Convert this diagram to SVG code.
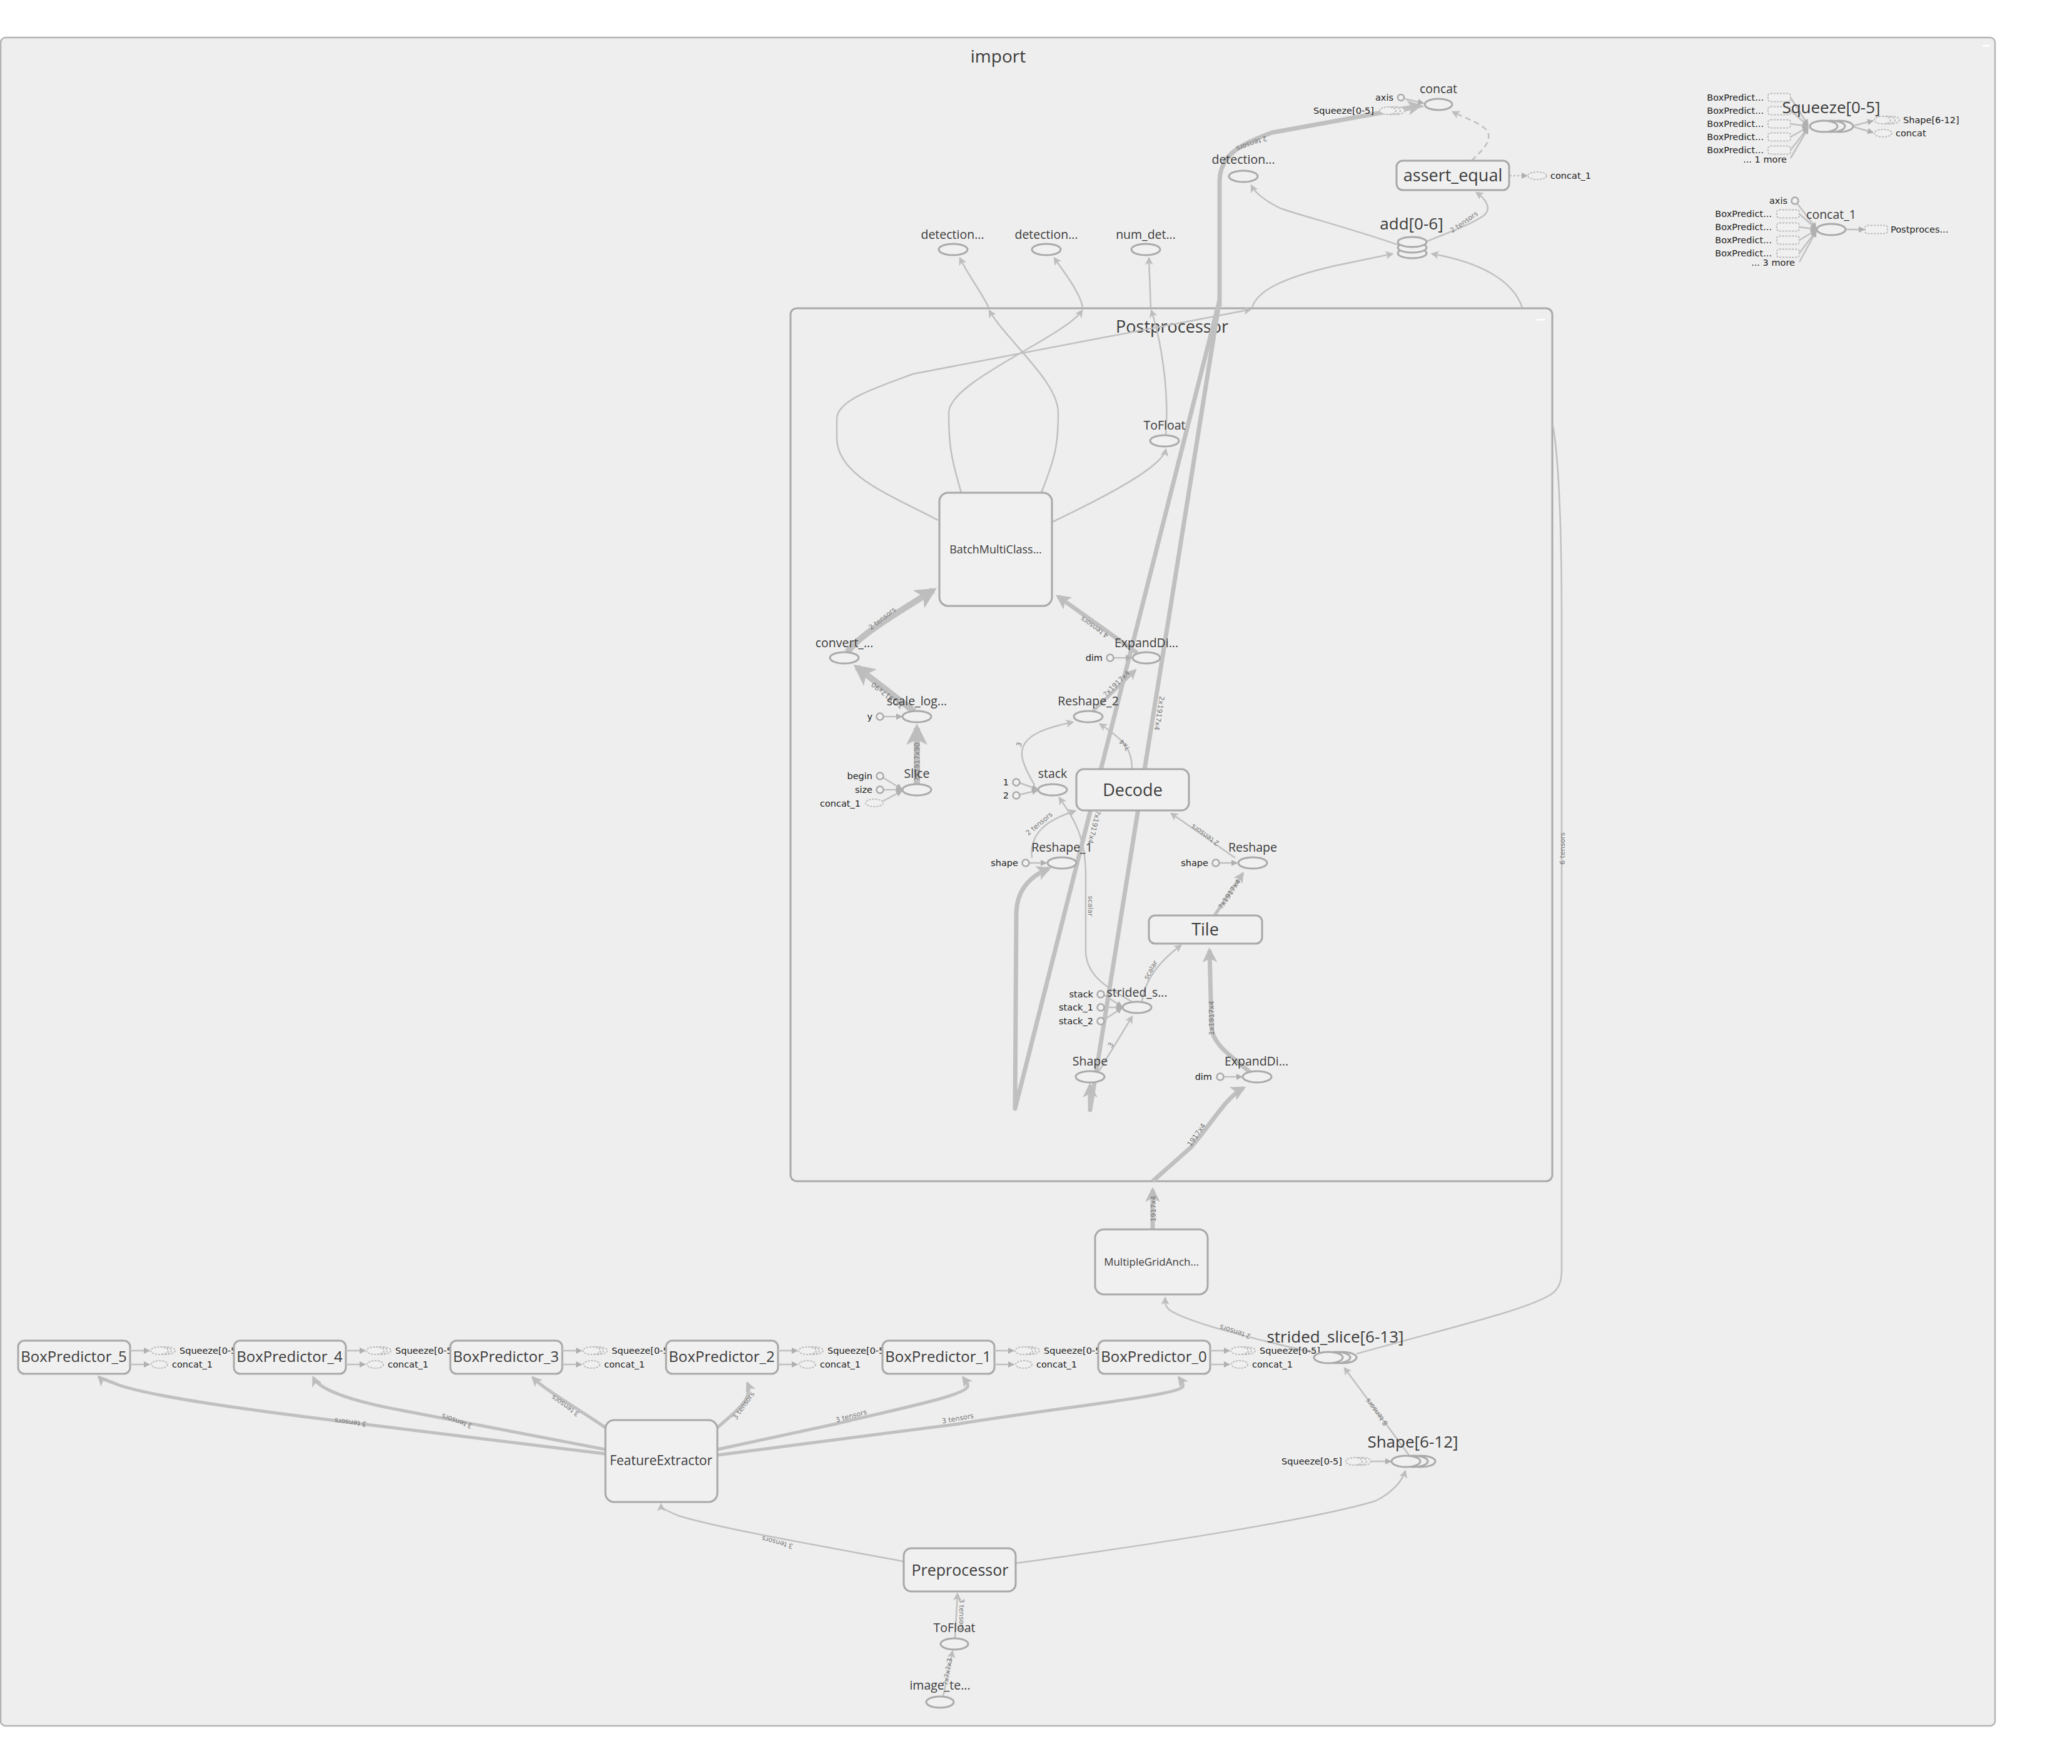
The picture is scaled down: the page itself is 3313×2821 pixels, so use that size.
<svg xmlns="http://www.w3.org/2000/svg" width="3313" height="2821" viewBox="0 0 3313 2821">
<style>
.grp{fill:#eeeeee;stroke:#b4b4b4;stroke-width:2.5}
.pp{fill:#eeeeee;stroke:#a9a9a9;stroke-width:3}
.b{fill:#f0f0f0;stroke:#a8a8a8;stroke-width:3}
.o{fill:#f0f0f0;stroke:#aaaaaa;stroke-width:3}
.c{fill:#f0f0f0;stroke:#aaaaaa;stroke-width:2.5}
.d{fill:#f0f0f0;stroke:#bbbbbb;stroke-width:2;stroke-dasharray:3 2}
.e{fill:none;stroke:#c0c0c0;stroke-width:2.5;stroke-linejoin:round}
.e5{stroke-width:5}
.e7{stroke-width:7}
.e10{stroke-width:10}
.t{font-family:'Open Sans','Liberation Sans',sans-serif;fill:#3c3c3c;text-anchor:middle}
.op{font-size:19.5px}
.m{font-size:27px}
.s{font-size:26px}
.an{font-family:'DejaVu Sans','Liberation Sans',sans-serif;font-size:14.5px;fill:#222}
.r{text-anchor:end}
.el{font-family:'DejaVu Sans','Liberation Sans',sans-serif;font-size:11px;fill:#777;text-anchor:middle}
</style>
<defs>
<marker id="ar" viewBox="0 0 10 10" refX="8" refY="5" markerWidth="13" markerHeight="13" markerUnits="userSpaceOnUse" orient="auto"><path d="M0,0 L10,5 L0,10 L2.5,5z" fill="#bdbdbd"/></marker>
<marker id="as" viewBox="0 0 10 10" refX="9" refY="5" markerWidth="10" markerHeight="10" markerUnits="userSpaceOnUse" orient="auto"><path d="M0,0 L10,5 L0,10z" fill="#b0b0b0"/></marker>
<marker id="arL" viewBox="0 0 10 10" refX="8" refY="5" markerWidth="3.4" markerHeight="3.4" orient="auto"><path d="M0,0 L10,5 L0,10 L2.5,5z" fill="#bdbdbd"/></marker>
</defs>
<rect width="3313" height="2821" fill="#ffffff"/>

<g id="import">
<rect class="grp" x="1" y="60" width="3189" height="2700" rx="8"/>
<text class="t" x="1596" y="100" font-size="28">import</text>
<rect x="3170" y="72" width="12" height="2.5" fill="#ffffff"/>
</g>

<g id="Postprocessor">
<rect class="pp" x="1264" y="493" width="1218" height="1396" rx="10"/>
<text class="t" x="1874" y="532" font-size="27">Postprocessor</text>
<rect x="2457" y="510" width="13" height="2.5" fill="#ffffff"/>
</g>

<g id="connectors">
<path class="e e7" d="M1950,490 L1950,290 C1950,245 1990,228 2034,212 L2270,169" marker-end="url(#arL)"/>
<text class="el" transform="translate(2000,226) rotate(160)">2 tensors</text>
<path class="e e7" d="M1950,480 L1623,1773 L1625,1460 C1626,1420 1650,1400 1677,1389" marker-end="url(#arL)"/>
<text class="el" transform="translate(1746,1322) rotate(104)">?x1917x4</text>
<path class="e e7" d="M1950,480 L1743,1775 L1743,1736" marker-end="url(#arL)"/>
<text class="el" transform="translate(1850,1140) rotate(99)">2x1917x4</text>

<path class="e" d="M2246,158 L2276,165" marker-end="url(#as)"/>
<path class="e" d="M2247,177 L2276,170"/>
<path class="e" d="M2240,393 C2150,362 2080,345 2047,333 C2025,322 2008,310 2001,297" marker-end="url(#ar)"/>
<path class="e" d="M2279,387 C2320,370 2350,360 2372,345 C2385,335 2378,320 2361,308" marker-end="url(#ar)"/>
<text class="el" transform="translate(2343,358) rotate(-35)">2 tensors</text>
<path class="e" d="M2353,257 C2370,240 2382,230 2380,215 C2378,200 2345,190 2323,179" stroke-dasharray="9 6" marker-end="url(#ar)"/>
<path class="e" d="M2414,281 L2442,281" stroke-dasharray="3 3" marker-end="url(#as)"/>

<path class="e" d="M1500,832 C1420,790 1338,760 1338,700 L1338,670 C1338,640 1400,620 1460,598 L1999,495" marker-end="url(#ar)"/>
<path class="e" d="M2002,492 C2010,465 2050,445 2130,426 L2226,406" marker-end="url(#ar)"/>
<path class="e" d="M2434,492 C2420,450 2370,420 2290,406" marker-end="url(#ar)"/>
<path class="e" d="M1665,788 C1688,730 1692,710 1692,660 C1692,610 1610,545 1582,497" marker-end="url(#ar)"/>
<path class="e" d="M1581,492 C1568,465 1548,440 1535,413" marker-end="url(#ar)"/>
<path class="e" d="M1537,788 C1520,730 1517,710 1517,660 C1517,610 1700,540 1730,497" marker-end="url(#ar)"/>
<path class="e" d="M1731,492 C1728,470 1705,440 1686,413" marker-end="url(#ar)"/>
<path class="e" d="M1864,696 C1870,620 1855,540 1841,497" marker-end="url(#ar)"/>
<path class="e" d="M1840,492 L1837,413" marker-end="url(#ar)"/>
<path class="e" d="M1682,835 C1760,798 1858,748 1864,719" marker-end="url(#ar)"/>

<path class="e e10" d="M1355,1043 C1375,1015 1430,983 1492,944" marker-end="url(#arL)"/>
<text class="el" transform="translate(1413,992) rotate(-38)">2 tensors</text>
<path class="e e10" d="M1462,1138 L1370,1067" marker-end="url(#arL)"/>
<text class="el" transform="translate(1421,1109) rotate(218)">?x1917x90</text>
<path class="e e10" d="M1466,1254 L1466,1164" marker-end="url(#arL)"/>
<text class="el" transform="translate(1470,1218) rotate(-90)">?x1917x90</text>
<path class="e" d="M1412,1146 L1442,1146" marker-end="url(#as)"/>
<path class="e" d="M1411,1243 L1442,1262" marker-end="url(#as)"/>
<path class="e" d="M1412,1263 L1442,1263" marker-end="url(#as)"/>
<path class="e" d="M1412,1281 L1442,1265" marker-end="url(#as)"/>

<path class="e e7" d="M1818,1044 L1692,954" marker-end="url(#arL)"/>
<text class="el" transform="translate(1752,1000) rotate(215)">4 tensors</text>
<path class="e" d="M1780,1052 L1809,1052" marker-end="url(#as)"/>
<path class="e e5" d="M1748,1137 L1815,1072" marker-end="url(#arL)"/>
<text class="el" transform="translate(1788,1096) rotate(-44)">?x1917x4</text>
<path class="e" d="M1654,1255 C1630,1215 1622,1190 1661,1171 C1680,1162 1700,1158 1715,1155" marker-end="url(#ar)"/>
<text class="el" transform="translate(1633,1192) rotate(-70)">3</text>
<path class="e" d="M1810,1229 C1810,1200 1800,1185 1759,1158" marker-end="url(#ar)"/>
<text class="el" transform="translate(1801,1189) rotate(230)">?x4</text>
<path class="e" d="M1630,1252 L1659,1262" marker-end="url(#as)"/>
<path class="e" d="M1630,1271 L1659,1264" marker-end="url(#as)"/>
<path class="e" d="M1650,1372 C1646,1335 1670,1312 1719,1297" marker-end="url(#ar)"/>
<text class="el" transform="translate(1664,1320) rotate(-40)">2 tensors</text>
<path class="e" d="M1812,1603 C1770,1580 1736,1560 1736,1520 L1736,1400 C1736,1330 1710,1300 1694,1276" marker-end="url(#ar)"/>
<text class="el" transform="translate(1740,1449) rotate(90)">scalar</text>
<path class="e" d="M1975,1372 L1873,1301" marker-end="url(#ar)"/>
<text class="el" transform="translate(1929,1332) rotate(215)">2 tensors</text>
<path class="e" d="M1645,1380 L1673,1380" marker-end="url(#as)"/>
<path class="e" d="M1950,1380 L1978,1380" marker-end="url(#as)"/>
<path class="e e5" d="M1942,1464 L1987,1397" marker-end="url(#arL)"/>
<text class="el" transform="translate(1969,1432) rotate(-56)">?x1917x4</text>
<path class="e" d="M1826,1602 C1830,1570 1850,1540 1888,1512" marker-end="url(#ar)"/>
<text class="el" transform="translate(1843,1553) rotate(-60)">scalar</text>
<path class="e" d="M1757,1713 L1810,1626" marker-end="url(#ar)"/>
<text class="el" transform="translate(1779,1673) rotate(-58)">3</text>
<path class="e" d="M1765,1591 L1794,1610" marker-end="url(#as)"/>
<path class="e" d="M1765,1611 L1794,1611" marker-end="url(#as)"/>
<path class="e" d="M1765,1631 L1794,1612" marker-end="url(#as)"/>
<path class="e e7" d="M1998,1714 C1970,1690 1937,1670 1937,1640 L1934,1520" marker-end="url(#arL)"/>
<text class="el" transform="translate(1941,1628) rotate(-90)">1x1917x4</text>
<path class="e" d="M1956,1722 L1986,1722" marker-end="url(#as)"/>
<path class="e e7" d="M1843,1966 L1843,1903" marker-end="url(#arL)"/>
<path class="e e7" d="M1843,1889 L1904,1835 C1935,1800 1960,1755 1988,1740" marker-end="url(#arL)"/>
<text class="el" transform="translate(1848,1933) rotate(-90)">1917x4</text>
<text class="el" transform="translate(1916,1817) rotate(-55)">1917x4</text>

<path class="e" d="M2169,2165 C2330,2120 2440,2095 2480,2070 C2495,2060 2497,2045 2497,2030 L2497,1000 C2497,800 2490,720 2483,680"/>
<text class="el" transform="translate(2502,1357) rotate(-90)">6 tensors</text>
<path class="e" d="M2100,2163 C2000,2140 1900,2115 1870,2095 C1862,2088 1863,2082 1863,2076" marker-end="url(#ar)"/>
<text class="el" transform="translate(1976,2126) rotate(198)">2 tensors</text>
<path class="e" d="M2253,2327 L2150,2188" marker-end="url(#ar)"/>
<text class="el" transform="translate(2204,2256) rotate(233)">8 tensors</text>
<path class="e" d="M2193,2337 L2224,2337" marker-end="url(#as)"/>
<path class="e" d="M1624,2500 C1900,2462 2120,2425 2200,2400 C2230,2385 2243,2365 2247,2353" marker-end="url(#ar)"/>

<path class="e e5" d="M968,2325 L561,2275 C400,2255 250,2235 190,2215 C168,2206 161,2205 158,2202" marker-end="url(#arL)"/>
<text class="el" transform="translate(561,2271) rotate(187)">3 tensors</text>
<path class="e e5" d="M968,2318 C850,2295 730,2272 640,2255 C560,2240 510,2222 501,2203" marker-end="url(#arL)"/>
<text class="el" transform="translate(732,2269) rotate(200)">3 tensors</text>
<path class="e e5" d="M968,2283 C920,2250 870,2222 852,2203" marker-end="url(#arL)"/>
<text class="el" transform="translate(906,2245) rotate(215)">3 tensors</text>
<path class="e e5" d="M1147,2283 C1180,2255 1205,2235 1195,2212" marker-end="url(#arL)"/>
<text class="el" transform="translate(1192,2250) rotate(-55)">3 tensors</text>
<path class="e e5" d="M1147,2318 L1337,2277 C1450,2250 1540,2232 1547,2218 C1549,2212 1543,2207 1540,2203" marker-end="url(#arL)"/>
<text class="el" transform="translate(1362,2268) rotate(-15)">3 tensors</text>
<path class="e e5" d="M1147,2327 L1533,2277 C1700,2250 1880,2232 1891,2218 C1893,2212 1888,2207 1885,2203" marker-end="url(#arL)"/>
<text class="el" transform="translate(1532,2272) rotate(-10)">3 tensors</text>

<path class="e" d="M1445,2497 C1300,2470 1150,2444 1085,2424 C1062,2414 1057,2412 1057,2406" marker-end="url(#ar)"/>
<text class="el" transform="translate(1244,2463) rotate(195)">3 tensors</text>
<path class="e" d="M1527,2620 L1531,2549" marker-end="url(#ar)"/>
<text class="el" transform="translate(1534,2582) rotate(90)">3 tensors</text>
<path class="e" d="M1508,2713 L1523,2641" marker-end="url(#ar)"/>
<text class="el" transform="translate(1519,2674) rotate(-80)">?x?x?x3</text>
</g>

<g id="Squeeze_0-5_top">
<text class="an r" x="2820" y="161">BoxPredict...</text>
<text class="an r" x="2820" y="182">BoxPredict...</text>
<text class="an r" x="2820" y="203">BoxPredict...</text>
<text class="an r" x="2820" y="224">BoxPredict...</text>
<text class="an r" x="2820" y="245">BoxPredict...</text>
<text class="an r" x="2857" y="260">... 1 more</text>
<rect class="d" x="2827" y="149.5" width="36" height="13" rx="4"/>
<rect class="d" x="2827" y="170.5" width="36" height="13" rx="4"/>
<rect class="d" x="2827" y="191.5" width="36" height="13" rx="4"/>
<rect class="d" x="2827" y="212.5" width="36" height="13" rx="4"/>
<rect class="d" x="2827" y="233.5" width="36" height="13" rx="4"/>
<path class="e" d="M2863,156 L2891,200" marker-end="url(#as)"/>
<path class="e" d="M2863,177 L2891,201" marker-end="url(#as)"/>
<path class="e" d="M2863,198 L2891,202" marker-end="url(#as)"/>
<path class="e" d="M2863,219 L2891,203" marker-end="url(#as)"/>
<path class="e" d="M2863,240 L2891,204" marker-end="url(#as)"/>
<path class="e" d="M2863,253 L2891,205" marker-end="url(#as)"/>
<ellipse class="o" cx="2941" cy="202" rx="22" ry="9"/>
<ellipse class="o" cx="2928" cy="202" rx="22" ry="9"/>
<ellipse class="o" cx="2916" cy="202" rx="22" ry="9"/>
<text class="t s" x="2928" y="181">Squeeze[0-5]</text>
<path class="e" d="M2964,201 L2995,193" marker-end="url(#as)"/>
<path class="e" d="M2964,203 L2995,212" marker-end="url(#as)"/>
<ellipse class="d" cx="3024" cy="192" rx="13" ry="6"/>
<ellipse class="d" cx="3017" cy="192" rx="13" ry="6"/>
<ellipse class="d" cx="3010" cy="192" rx="13" ry="6"/>
<text class="an" x="3043" y="197">Shape[6-12]</text>
<ellipse class="d" cx="3011" cy="213" rx="14" ry="6"/>
<text class="an" x="3031" y="218">concat</text>
</g>

<g id="concat_1_top">
<circle class="c" cx="2870" cy="321" r="5.5"/>
<text class="an r" x="2858" y="326">axis</text>
<text class="an r" x="2833" y="347">BoxPredict...</text>
<text class="an r" x="2833" y="368">BoxPredict...</text>
<text class="an r" x="2833" y="389">BoxPredict...</text>
<text class="an r" x="2833" y="410">BoxPredict...</text>
<text class="an r" x="2870" y="425">... 3 more</text>
<rect class="d" x="2841" y="335.5" width="36" height="13" rx="4"/>
<rect class="d" x="2841" y="356.5" width="36" height="13" rx="4"/>
<rect class="d" x="2841" y="377.5" width="36" height="13" rx="4"/>
<rect class="d" x="2841" y="398.5" width="36" height="13" rx="4"/>
<path class="e" d="M2874,326 L2904,365" marker-end="url(#as)"/>
<path class="e" d="M2877,342 L2904,366" marker-end="url(#as)"/>
<path class="e" d="M2877,363 L2904,367" marker-end="url(#as)"/>
<path class="e" d="M2877,384 L2904,368" marker-end="url(#as)"/>
<path class="e" d="M2877,405 L2904,369" marker-end="url(#as)"/>
<path class="e" d="M2877,419 L2904,370" marker-end="url(#as)"/>
<ellipse class="o" cx="2928" cy="367" rx="23" ry="9"/>
<text class="t op" x="2928" y="350">concat_1</text>
<path class="e" d="M2952,367 L2981,367" marker-end="url(#as)"/>
<rect class="d" x="2982" y="360.5" width="36" height="13" rx="4"/>
<text class="an" x="3023" y="372">Postproces...</text>
</g>

<g id="concat">
<circle class="c" cx="2240" cy="156" r="5"/>
<text class="an r" x="2228" y="161">axis</text>
<ellipse class="d" cx="2233" cy="177" rx="13" ry="6"/>
<ellipse class="d" cx="2226" cy="177" rx="13" ry="6"/>
<ellipse class="d" cx="2219" cy="177" rx="13" ry="6"/>
<text class="an r" x="2197" y="182">Squeeze[0-5]</text>
<ellipse class="o" cx="2300" cy="167" rx="22" ry="9"/>
<text class="t op" x="2300" y="149">concat</text>
</g>

<g id="detection_top">
<ellipse class="o" cx="1988" cy="282" rx="23" ry="9"/>
<text class="t op" x="1988" y="262">detection...</text>
</g>

<g id="assert_equal">
<rect class="b" x="2233" y="257" width="180" height="47" rx="10"/>
<text class="t m" x="2323" y="290">assert_equal</text>
<ellipse class="d" cx="2458" cy="281" rx="15" ry="6"/>
<text class="an" x="2479" y="286">concat_1</text>
</g>

<g id="add_0-6">
<ellipse class="o" cx="2258" cy="405" rx="23" ry="8"/>
<ellipse class="o" cx="2258" cy="396" rx="23" ry="8"/>
<ellipse class="o" cx="2258" cy="387" rx="23" ry="8"/>
<text class="t s" x="2257" y="367">add[0-6]</text>
</g>

<g id="detection_1">
<ellipse class="o" cx="1524" cy="399" rx="23" ry="9"/>
<text class="t op" x="1523" y="382">detection...</text>
</g>
<g id="detection_2">
<ellipse class="o" cx="1673" cy="399" rx="23" ry="9"/>
<text class="t op" x="1673" y="382">detection...</text>
</g>
<g id="num_det">
<ellipse class="o" cx="1832" cy="399" rx="23" ry="9"/>
<text class="t op" x="1832" y="382">num_det...</text>
</g>

<g id="ToFloat_pp">
<ellipse class="o" cx="1862" cy="705" rx="23" ry="9"/>
<text class="t op" x="1862" y="687">ToFloat</text>
</g>

<g id="BatchMultiClass">
<rect class="b" x="1502" y="788" width="180" height="181" rx="14"/>
<text class="t" x="1592" y="885" font-size="18">BatchMultiClass...</text>
</g>

<g id="convert">
<ellipse class="o" cx="1350" cy="1052" rx="23" ry="9"/>
<text class="t op" x="1350" y="1035">convert_...</text>
</g>
<g id="scale_logits">
<circle class="c" cx="1407" cy="1146" r="5.5"/>
<text class="an r" x="1395" y="1151">y</text>
<ellipse class="o" cx="1466" cy="1146" rx="23" ry="9"/>
<text class="t op" x="1466" y="1128">scale_log...</text>
</g>
<g id="Slice">
<circle class="c" cx="1407" cy="1241" r="5.5"/>
<text class="an r" x="1395" y="1246">begin</text>
<circle class="c" cx="1407" cy="1263" r="5.5"/>
<text class="an r" x="1395" y="1268">size</text>
<ellipse class="d" cx="1398" cy="1284" rx="14" ry="6"/>
<text class="an r" x="1376" y="1290">concat_1</text>
<ellipse class="o" cx="1466" cy="1263" rx="23" ry="9"/>
<text class="t op" x="1466" y="1244">Slice</text>
</g>

<g id="ExpandDims_top">
<circle class="c" cx="1775" cy="1052" r="5.5"/>
<text class="an r" x="1763" y="1057">dim</text>
<ellipse class="o" cx="1833" cy="1052" rx="22" ry="9"/>
<text class="t op" x="1833" y="1035">ExpandDi...</text>
</g>
<g id="Reshape_2">
<ellipse class="o" cx="1740" cy="1146" rx="23" ry="9"/>
<text class="t op" x="1740" y="1128">Reshape_2</text>
</g>
<g id="stack">
<circle class="c" cx="1625" cy="1251" r="5.5"/>
<text class="an r" x="1613" y="1256">1</text>
<circle class="c" cx="1625" cy="1272" r="5.5"/>
<text class="an r" x="1613" y="1277">2</text>
<ellipse class="o" cx="1683" cy="1263" rx="23" ry="9"/>
<text class="t op" x="1683" y="1244">stack</text>
</g>
<g id="Decode">
<rect class="b" x="1721" y="1230" width="180" height="66" rx="12"/>
<text class="t m" x="1811" y="1273">Decode</text>
</g>
<g id="Reshape_1">
<circle class="c" cx="1640" cy="1380" r="5.5"/>
<text class="an r" x="1628" y="1385">shape</text>
<ellipse class="o" cx="1698" cy="1380" rx="23" ry="9"/>
<text class="t op" x="1698" y="1362">Reshape_1</text>
</g>
<g id="Reshape">
<circle class="c" cx="1944" cy="1380" r="5.5"/>
<text class="an r" x="1932" y="1385">shape</text>
<ellipse class="o" cx="2003" cy="1380" rx="23" ry="9"/>
<text class="t op" x="2003" y="1362">Reshape</text>
</g>
<g id="Tile">
<rect class="b" x="1837" y="1464" width="181" height="45" rx="10"/>
<text class="t m" x="1927" y="1496">Tile</text>
</g>
<g id="strided_slice">
<circle class="c" cx="1760" cy="1590" r="5.5"/>
<text class="an r" x="1748" y="1595">stack</text>
<circle class="c" cx="1760" cy="1611" r="5.5"/>
<text class="an r" x="1748" y="1616">stack_1</text>
<circle class="c" cx="1760" cy="1633" r="5.5"/>
<text class="an r" x="1748" y="1638">stack_2</text>
<ellipse class="o" cx="1818" cy="1611" rx="23" ry="9"/>
<text class="t op" x="1818" y="1594">strided_s...</text>
</g>
<g id="Shape">
<ellipse class="o" cx="1743" cy="1722" rx="23" ry="9"/>
<text class="t op" x="1743" y="1704">Shape</text>
</g>
<g id="ExpandDims_bottom">
<circle class="c" cx="1951" cy="1722" r="5.5"/>
<text class="an r" x="1938" y="1727">dim</text>
<ellipse class="o" cx="2010" cy="1722" rx="23" ry="9"/>
<text class="t op" x="2009" y="1704">ExpandDi...</text>
</g>

<g id="MultipleGridAnchorGenerator">
<rect class="b" x="1751" y="1966" width="180" height="104" rx="14"/>
<text class="t" x="1841" y="2024" font-size="17">MultipleGridAnch...</text>
</g>

<g id="BoxPredictor_5">
<rect class="b" x="29" y="2144" width="179" height="53" rx="10"/>
<text class="t" x="118" y="2178" font-size="24">BoxPredictor_5</text>
<path class="e" d="M208,2160 L239,2160" marker-end="url(#as)"/>
<ellipse class="d" cx="266" cy="2160" rx="14" ry="6"/><ellipse class="d" cx="260" cy="2160" rx="14" ry="6"/><ellipse class="d" cx="255" cy="2160" rx="14" ry="6"/>
<text class="an" x="287" y="2165">Squeeze[0-5]</text>
<path class="e" d="M208,2182 L239,2182" marker-end="url(#as)"/>
<ellipse class="d" cx="255" cy="2182" rx="13" ry="6"/>
<text class="an" x="275" y="2187">concat_1</text>
</g>
<g id="BoxPredictor_4">
<rect class="b" x="374" y="2144" width="179" height="53" rx="10"/>
<text class="t" x="463" y="2178" font-size="24">BoxPredictor_4</text>
<path class="e" d="M553,2160 L584,2160" marker-end="url(#as)"/>
<ellipse class="d" cx="611" cy="2160" rx="14" ry="6"/><ellipse class="d" cx="605" cy="2160" rx="14" ry="6"/><ellipse class="d" cx="600" cy="2160" rx="14" ry="6"/>
<text class="an" x="632" y="2165">Squeeze[0-5]</text>
<path class="e" d="M553,2182 L584,2182" marker-end="url(#as)"/>
<ellipse class="d" cx="600" cy="2182" rx="13" ry="6"/>
<text class="an" x="620" y="2187">concat_1</text>
</g>
<g id="BoxPredictor_3">
<rect class="b" x="720" y="2144" width="179" height="53" rx="10"/>
<text class="t" x="809" y="2178" font-size="24">BoxPredictor_3</text>
<path class="e" d="M899,2160 L930,2160" marker-end="url(#as)"/>
<ellipse class="d" cx="957" cy="2160" rx="14" ry="6"/><ellipse class="d" cx="951" cy="2160" rx="14" ry="6"/><ellipse class="d" cx="946" cy="2160" rx="14" ry="6"/>
<text class="an" x="978" y="2165">Squeeze[0-5]</text>
<path class="e" d="M899,2182 L930,2182" marker-end="url(#as)"/>
<ellipse class="d" cx="946" cy="2182" rx="13" ry="6"/>
<text class="an" x="966" y="2187">concat_1</text>
</g>
<g id="BoxPredictor_2">
<rect class="b" x="1065" y="2144" width="179" height="53" rx="10"/>
<text class="t" x="1154" y="2178" font-size="24">BoxPredictor_2</text>
<path class="e" d="M1244,2160 L1275,2160" marker-end="url(#as)"/>
<ellipse class="d" cx="1302" cy="2160" rx="14" ry="6"/><ellipse class="d" cx="1296" cy="2160" rx="14" ry="6"/><ellipse class="d" cx="1291" cy="2160" rx="14" ry="6"/>
<text class="an" x="1323" y="2165">Squeeze[0-5]</text>
<path class="e" d="M1244,2182 L1275,2182" marker-end="url(#as)"/>
<ellipse class="d" cx="1291" cy="2182" rx="13" ry="6"/>
<text class="an" x="1311" y="2187">concat_1</text>
</g>
<g id="BoxPredictor_1">
<rect class="b" x="1411" y="2144" width="179" height="53" rx="10"/>
<text class="t" x="1500" y="2178" font-size="24">BoxPredictor_1</text>
<path class="e" d="M1590,2160 L1621,2160" marker-end="url(#as)"/>
<ellipse class="d" cx="1648" cy="2160" rx="14" ry="6"/><ellipse class="d" cx="1642" cy="2160" rx="14" ry="6"/><ellipse class="d" cx="1637" cy="2160" rx="14" ry="6"/>
<text class="an" x="1669" y="2165">Squeeze[0-5]</text>
<path class="e" d="M1590,2182 L1621,2182" marker-end="url(#as)"/>
<ellipse class="d" cx="1637" cy="2182" rx="13" ry="6"/>
<text class="an" x="1657" y="2187">concat_1</text>
</g>
<g id="BoxPredictor_0">
<rect class="b" x="1756" y="2144" width="179" height="53" rx="10"/>
<text class="t" x="1845" y="2178" font-size="24">BoxPredictor_0</text>
<path class="e" d="M1935,2160 L1966,2160" marker-end="url(#as)"/>
<ellipse class="d" cx="1993" cy="2160" rx="14" ry="6"/><ellipse class="d" cx="1987" cy="2160" rx="14" ry="6"/><ellipse class="d" cx="1982" cy="2160" rx="14" ry="6"/>
<text class="an" x="2014" y="2165">Squeeze[0-5]</text>
<path class="e" d="M1935,2182 L1966,2182" marker-end="url(#as)"/>
<ellipse class="d" cx="1982" cy="2182" rx="13" ry="6"/>
<text class="an" x="2002" y="2187">concat_1</text>
</g>

<g id="strided_slice_6-13">
<ellipse class="o" cx="2146" cy="2171" rx="23" ry="9"/>
<ellipse class="o" cx="2136" cy="2171" rx="23" ry="9"/>
<ellipse class="o" cx="2124" cy="2171" rx="23" ry="9"/>
<text class="t s" x="2135" y="2147">strided_slice[6-13]</text>
</g>
<g id="Shape_6-12">
<ellipse class="d" cx="2179" cy="2337" rx="13" ry="6"/>
<ellipse class="d" cx="2172" cy="2337" rx="13" ry="6"/>
<ellipse class="d" cx="2165" cy="2337" rx="13" ry="6"/>
<text class="an r" x="2146" y="2342">Squeeze[0-5]</text>
<ellipse class="o" cx="2272" cy="2337" rx="23" ry="9"/>
<ellipse class="o" cx="2260" cy="2337" rx="23" ry="9"/>
<ellipse class="o" cx="2248" cy="2337" rx="23" ry="9"/>
<text class="t s" x="2259" y="2315">Shape[6-12]</text>
</g>

<g id="FeatureExtractor">
<rect class="b" x="968" y="2271" width="179" height="131" rx="14"/>
<text class="t" x="1057" y="2343" font-size="21">FeatureExtractor</text>
</g>
<g id="Preprocessor">
<rect class="b" x="1445" y="2476" width="179" height="69" rx="12"/>
<text class="t" x="1535" y="2520" font-size="25">Preprocessor</text>
</g>
<g id="ToFloat">
<ellipse class="o" cx="1526" cy="2629" rx="22" ry="9"/>
<text class="t op" x="1526" y="2610">ToFloat</text>
</g>
<g id="image_tensor">
<ellipse class="o" cx="1503" cy="2722" rx="22" ry="9"/>
<text class="t op" x="1503" y="2702">image_te...</text>
</g>
</svg>
